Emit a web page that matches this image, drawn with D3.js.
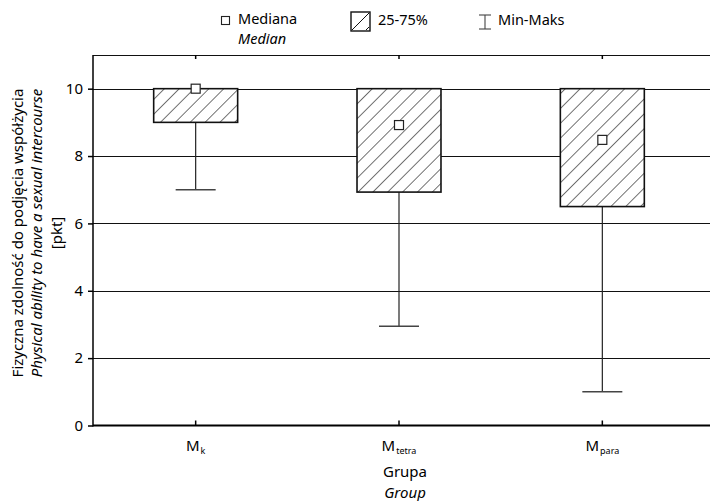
<!DOCTYPE html>
<html><head><meta charset="utf-8">
<script src="https://cdn.jsdelivr.net/npm/d3@7"></script>
<style>body{margin:0;background:#fff}svg{display:block}text{font-family:"Noto Sans",sans-serif;fill:#000}</style>
</head><body><svg id="c" width="710" height="501"></svg>
<script>
const groups = ["k", "tetra", "para"];
const minVals = [7, 2.95, 1];
const q1Vals = [9, 6.93, 6.5];
const medVals = [10, 8.92, 8.48];
const q3Vals = [10, 10, 10];
const maxVals = [10, 10, 10];
const yTicks = [0, 2, 4, 6, 8, 10];

const svg = d3.select("#c");
const L = 93, T = 55, B = 425.5, R = 717;
const x = d3.scaleBand().domain(groups).range([94, 704]);
const y = d3.scaleLinear().domain([0, 11]).range([B, T]);
const bw = x.bandwidth() * 0.413;
const cx = g => x(g) + x.bandwidth() / 2;
const FS = 15;

const defs = svg.append("defs");
const pat = defs.append("pattern").attr("id", "hatch").attr("patternUnits", "userSpaceOnUse")
  .attr("width", 10.5).attr("height", 10.5).attr("patternTransform", "rotate(45)");
pat.append("line").attr("x1", 0).attr("y1", 0).attr("x2", 0).attr("y2", 10.5)
  .attr("stroke", "#000").attr("stroke-width", 1.1);

// grid
svg.append("g").selectAll("line").data(yTicks.filter(d => d > 0)).join("line")
  .attr("x1", L).attr("x2", R).attr("y1", d => Math.round(y(d)) + 0.5).attr("y2", d => Math.round(y(d)) + 0.5)
  .attr("stroke", "#111").attr("stroke-width", 1);

// frame
svg.append("line").attr("x1", L).attr("x2", R).attr("y1", T + 0.5).attr("y2", T + 0.5).attr("stroke", "#111").attr("stroke-width", 1.2);
svg.append("line").attr("x1", L).attr("x2", R).attr("y1", B).attr("y2", B).attr("stroke", "#000").attr("stroke-width", 1.8);
svg.append("line").attr("x1", L).attr("x2", L).attr("y1", T).attr("y2", B + 0.9).attr("stroke", "#000").attr("stroke-width", 1.5);

// y axis
const ya = svg.append("g").attr("transform", `translate(${L},0)`)
  .call(d3.axisLeft(y).tickValues(yTicks).tickSize(5).tickPadding(5).tickFormat(d3.format("d")));
ya.select(".domain").remove();
ya.selectAll("line").attr("stroke", "#000").attr("stroke-width", 1.5);
ya.selectAll("text").attr("font-size", FS).attr("font-family", "Noto Sans");

// x ticks bottom (inward) and top (inward)
svg.append("g").selectAll("line").data(groups).join("line")
  .attr("x1", cx).attr("x2", cx).attr("y1", B - 5).attr("y2", B).attr("stroke", "#000").attr("stroke-width", 1.5);
svg.append("g").selectAll("line").data(groups).join("line")
  .attr("x1", cx).attr("x2", cx).attr("y1", T).attr("y2", T + 4).attr("stroke", "#000").attr("stroke-width", 1.5);

// x labels
const xl = svg.append("g").selectAll("text").data(groups).join("text")
  .attr("x", d => cx(d)).attr("y", 451).attr("text-anchor", "middle").attr("font-size", FS);
xl.append("tspan").text("M");
xl.append("tspan").attr("font-size", 9).attr("dx", 1).attr("dy", 3).text(d => d);

// boxes
const idx = groups.map((g, i) => i);
const bx = svg.append("g");
bx.selectAll(".whisk").data(idx).join("line")
  .attr("x1", i => cx(groups[i])).attr("x2", i => cx(groups[i]))
  .attr("y1", i => y(minVals[i])).attr("y2", i => y(q1Vals[i]))
  .attr("stroke", "#222").attr("stroke-width", 1.2);
bx.selectAll(".cap").data(idx).join("line")
  .attr("x1", i => cx(groups[i]) - 20).attr("x2", i => cx(groups[i]) + 20)
  .attr("y1", i => y(minVals[i])).attr("y2", i => y(minVals[i]))
  .attr("stroke", "#444").attr("stroke-width", 1.5);
bx.selectAll(".capmax").data(idx).join("line")
  .attr("x1", i => cx(groups[i]) - 20).attr("x2", i => cx(groups[i]) + 20)
  .attr("y1", i => y(maxVals[i])).attr("y2", i => y(maxVals[i]))
  .attr("stroke", "#444").attr("stroke-width", 1.5);
bx.selectAll("rect.box").data(idx).join("rect").attr("class", "box")
  .attr("x", i => cx(groups[i]) - bw / 2).attr("width", bw)
  .attr("y", i => y(q3Vals[i])).attr("height", i => y(q1Vals[i]) - y(q3Vals[i]))
  .attr("fill", "#fff").attr("stroke", "none");
bx.selectAll("rect.hat").data(idx).join("rect").attr("class", "hat")
  .attr("x", i => cx(groups[i]) - bw / 2).attr("width", bw)
  .attr("y", i => y(q3Vals[i])).attr("height", i => y(q1Vals[i]) - y(q3Vals[i]))
  .attr("fill", "url(#hatch)").attr("stroke", "#111").attr("stroke-width", 1.6);
bx.selectAll("rect.med").data(idx).join("rect").attr("class", "med")
  .attr("x", i => cx(groups[i]) - 4.5).attr("width", 9)
  .attr("y", i => y(medVals[i]) - 4.5).attr("height", 9)
  .attr("fill", "#fff").attr("stroke", "#222").attr("stroke-width", 1.2);

// y title
const yt = svg.append("text").attr("transform", "translate(0,233) rotate(-90)").attr("text-anchor", "middle").attr("font-size", FS);
yt.append("tspan").attr("x", 0).attr("y", 23).text("Fizyczna zdolność do podjęcia współżycia");
yt.append("tspan").attr("x", 0).attr("y", 42).attr("font-style", "italic").text("Physical ability to have a sexual intercourse");
yt.append("tspan").attr("x", 0).attr("y", 62).text("[pkt]");

// x title
svg.append("text").attr("x", 405).attr("y", 477).attr("text-anchor", "middle").attr("font-size", FS).text("Grupa");
svg.append("text").attr("x", 405).attr("y", 498).attr("text-anchor", "middle").attr("font-size", FS).attr("font-style", "italic").text("Group");

// legend
const LF = 14.5;
const lg = svg.append("g");
lg.append("rect").attr("x", 221.5).attr("y", 16.5).attr("width", 8).attr("height", 8).attr("fill", "#fff").attr("stroke", "#222").attr("stroke-width", 1.1);
lg.append("text").attr("x", 238).attr("y", 24).attr("font-size", LF).text("Mediana");
lg.append("text").attr("x", 238).attr("y", 44).attr("font-size", LF).attr("font-style", "italic").text("Median");
lg.append("rect").attr("x", 351).attr("y", 12).attr("width", 19).attr("height", 19).attr("fill", "#fff").attr("stroke", "#111").attr("stroke-width", 1.4);
lg.append("line").attr("x1", 352).attr("y1", 30).attr("x2", 369).attr("y2", 13).attr("stroke", "#111").attr("stroke-width", 1);
lg.append("line").attr("x1", 366).attr("y1", 30).attr("x2", 369).attr("y2", 27).attr("stroke", "#111").attr("stroke-width", 1);
lg.append("text").attr("x", 378).attr("y", 25).attr("font-size", LF).text("25-75%");
lg.append("line").attr("x1", 485).attr("x2", 485).attr("y1", 15).attr("y2", 29).attr("stroke", "#444").attr("stroke-width", 1.1);
lg.append("line").attr("x1", 479).attr("x2", 491).attr("y1", 15).attr("y2", 15).attr("stroke", "#444").attr("stroke-width", 1.1);
lg.append("line").attr("x1", 479).attr("x2", 491).attr("y1", 29).attr("y2", 29).attr("stroke", "#444").attr("stroke-width", 1.1);
lg.append("text").attr("x", 498).attr("y", 25).attr("font-size", LF).text("Min-Maks");
</script></body></html>
